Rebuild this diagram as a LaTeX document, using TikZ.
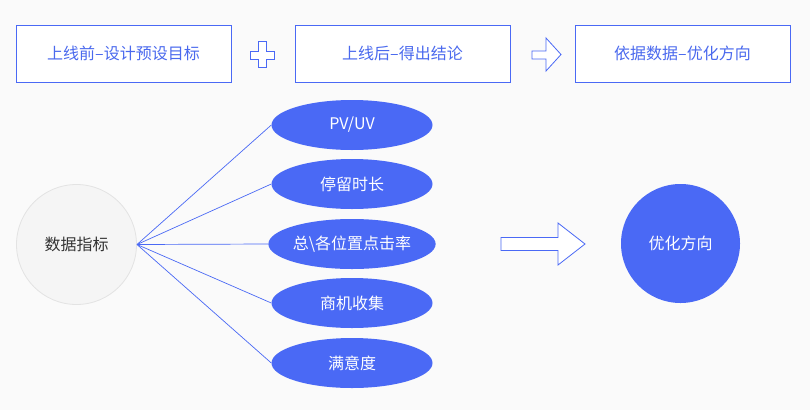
\documentclass[tikz,border=0pt]{standalone}
\usepackage{fontspec}
\setmainfont{Noto Sans CJK SC}
\usetikzlibrary{shapes.geometric}
\definecolor{bg}{HTML}{FAFAFA}
\definecolor{mainblue}{HTML}{4A69F5}
\definecolor{txtblue}{HTML}{4A69EE}
\definecolor{cgray}{HTML}{F5F5F5}
\definecolor{cborder}{HTML}{E3E3E3}
\definecolor{dtext}{HTML}{333333}
\tikzset{
  topbox/.style={draw=mainblue, line width=1pt, fill=white, minimum width=215pt, minimum height=57pt, text=txtblue, font=\fontsize{16pt}{19pt}\selectfont, inner sep=0pt},
  metric/.style={ellipse, fill=mainblue, minimum width=161pt, minimum height=50pt, text=white, font=\fontsize{16pt}{19pt}\selectfont, inner sep=0pt},
  link/.style={draw=mainblue, line width=0.7pt},
  hollow/.style={draw=mainblue, line width=0.8pt, fill=white, line join=miter},
}
\begin{document}
\begin{tikzpicture}[x=1pt, y=-1pt]
\fill[bg] (0,0) rectangle (810,410);
\useasboundingbox (0,0) rectangle (810,410);

% top boxes
\node[topbox] (b1) at (123.5,53.5) {上线前–设计预设目标};
\node[topbox] (b2) at (402.5,53.5) {上线后–得出结论};
\node[topbox] (b3) at (682.5,53.5) {依据数据–优化方向};

% plus sign
\draw[hollow] (258,41) -- (266,41) -- (266,51) -- (274,51) -- (274,59) -- (266,59) -- (266,67) -- (258,67) -- (258,59) -- (250,59) -- (250,51) -- (258,51) -- cycle;
% small hollow arrow
\draw[hollow] (532,51) -- (546,51) -- (546,38) -- (561,54.5) -- (546,71) -- (546,59) -- (532,59) -- cycle;

% left circle
\node[circle, fill=cgray, draw=cborder, line width=0.8pt, minimum size=120pt, inner sep=0pt, text=dtext, font=\fontsize{16pt}{19pt}\selectfont] (data) at (76.5,244.5) {数据指标};
\coordinate (hub) at (137,244.5);

% metrics
\node[metric] (m1) at (352,125) {PV/UV};
\node[metric] (m2) at (352,184) {停留时长};
\node[metric] (m3) at (352,244) {总\textbackslash 各位置点击率};
\node[metric] (m4) at (352,303) {商机收集};
\node[metric] (m5) at (352,363) {满意度};

\foreach \m in {m1,m2,m3,m4,m5} {
  \draw[link] (hub) -- (\m.west);
}

% big hollow arrow
\draw[hollow] (501,237.5) -- (558,237.5) -- (558,223) -- (585,244) -- (558,265) -- (558,250.5) -- (501,250.5) -- cycle;

% right circle
\node[circle, fill=mainblue, minimum size=119pt, inner sep=0pt, text=white, font=\fontsize{16pt}{19pt}\selectfont] (opt) at (680.5,243.5) {优化方向};
\end{tikzpicture}
\end{document}
